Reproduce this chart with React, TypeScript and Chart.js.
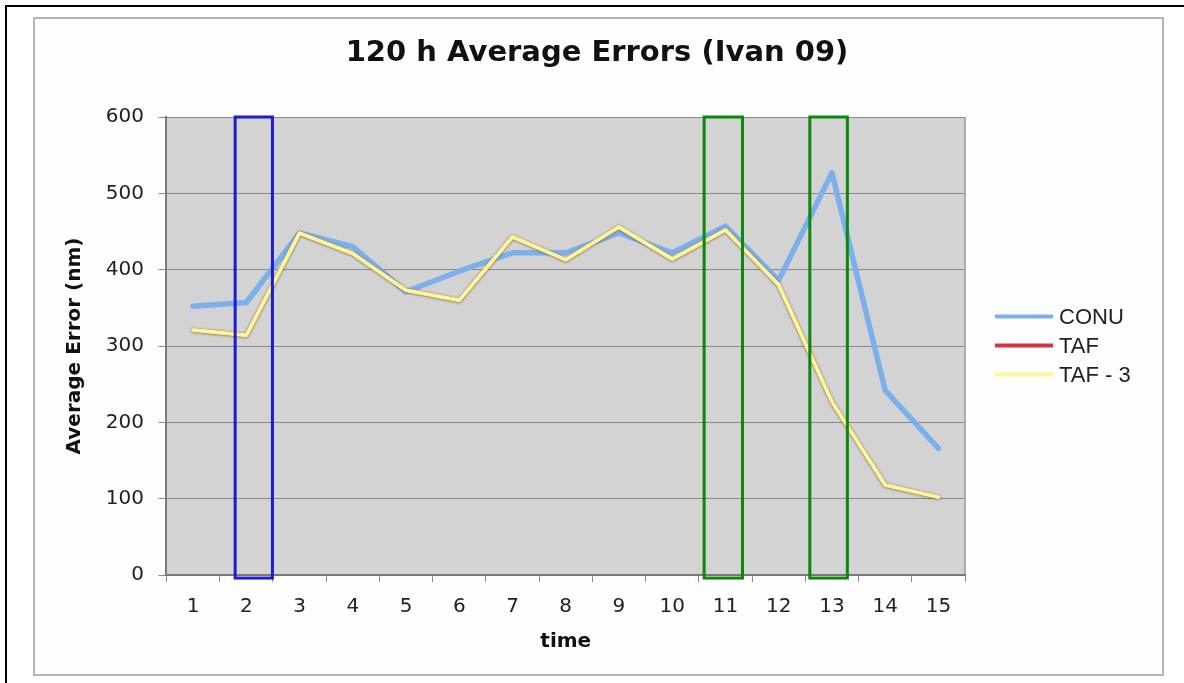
import React, { useEffect, useRef } from "react";
import { Chart, registerables } from "chart.js";

Chart.register(...registerables);

// ---- data ----
const TITLE = "120 h Average Errors (Ivan 09)";
const X_TITLE = "time";
const Y_TITLE = "Average Error (nm)";
const categories = ["1", "2", "3", "4", "5", "6", "7", "8", "9", "10", "11", "12", "13", "14", "15"];
const seriesNames = ["CONU", "TAF", "TAF - 3"];
const conu = [352, 357, 448, 430, 371, 398, 422, 422, 448, 422, 457, 386, 527, 242, 166];
const taf = [321, 314, 448, 421, 373, 360, 443, 413, 456, 414, 452, 380, 227, 118, 102];
const taf3 = [321, 314, 448, 421, 373, 360, 443, 413, 456, 414, 452, 380, 227, 118, 102];
const yMin = 0;
const yMax = 600;
const yStep = 100;
// highlight boxes, in category-index units (0 = "1")
const boxStarts = [0.79, 9.6, 11.585];
const boxEnds = [1.49, 10.32, 12.29];
const boxTops = [600, 600, 600];
const boxBottoms = [-4, -4, -4];

// ---- styles ----
const seriesColors = ["#7cb0ec", "#d6333f", "#fff59a"];
const seriesWidths = [5.5, 4, 4];
const boxColors = ["#1c1cd0", "#0b870b", "#0b870b"];
const PLOT_BG = "#d3d3d3";
const GRID = "#8a8a8a";

const decorPlugin = {
  id: "decor",
  beforeDraw(chart: any) {
    const { ctx, chartArea: a } = chart;
    ctx.save();
    ctx.fillStyle = PLOT_BG;
    ctx.fillRect(a.left, a.top, a.right - a.left, a.bottom - a.top);
    ctx.strokeStyle = "#9a9a9a";
    ctx.lineWidth = 1.5;
    ctx.beginPath();
    ctx.moveTo(a.right, a.top);
    ctx.lineTo(a.right, a.bottom);
    ctx.stroke();
    ctx.restore();
  },
  beforeDatasetDraw(chart: any, args: any) {
    const ctx = chart.ctx;
    ctx.save();
    if (args.index === 2) {
      ctx.shadowColor = "rgba(90,80,40,0.75)";
      ctx.shadowBlur = 2.5;
      ctx.shadowOffsetX = 0;
      ctx.shadowOffsetY = 0.5;
    }
  },
  afterDatasetDraw(chart: any) {
    chart.ctx.restore();
  },
  afterDatasetsDraw(chart: any) {
    const { ctx, scales } = chart;
    const xs = scales.x;
    const ys = scales.y;
    ctx.save();
    ctx.lineWidth = 3;
    boxStarts.forEach((s, i) => {
      const x1 = xs.getPixelForValue(s);
      const x2 = xs.getPixelForValue(boxEnds[i]);
      const y1 = ys.getPixelForValue(boxTops[i]);
      const y2 = ys.getPixelForValue(boxBottoms[i]);
      ctx.strokeStyle = boxColors[i];
      ctx.strokeRect(x1, y1, x2 - x1, y2 - y1);
    });
    ctx.restore();
  },
  afterDraw(chart: any) {
    const { ctx, chartArea: a } = chart;
    ctx.save();
    // title
    ctx.fillStyle = "#111";
    ctx.font = "bold 29px 'DejaVu Sans'";
    ctx.textAlign = "center";
    ctx.textBaseline = "middle";
    ctx.fillText(TITLE, 597, 53);
    // legend
    const x0 = a.right + 30;
    const cy = (a.top + a.bottom) / 2;
    ctx.font = "22px 'Liberation Sans'";
    ctx.textAlign = "left";
    chart.data.datasets.forEach((ds: any, i: number) => {
      const y = cy + (i - 1) * 29;
      ctx.fillStyle = ds.borderColor;
      ctx.fillRect(x0, y - 2.5, 58, 4);
      ctx.fillStyle = "#222";
      ctx.fillText(ds.label, x0 + 64, y + 1);
    });
    ctx.restore();
  },
};

export default function App() {
  const ref = useRef<HTMLCanvasElement | null>(null);

  useEffect(() => {
    if (!ref.current) return;
    const series = [conu, taf, taf3];
    const chart = new Chart(ref.current, {
      type: "line",
      data: {
        labels: categories,
        datasets: series.map((d, i) => ({
          label: seriesNames[i],
          data: d,
          borderColor: seriesColors[i],
          backgroundColor: seriesColors[i],
          borderWidth: seriesWidths[i],
          pointRadius: 0,
          pointHoverRadius: 0,
          tension: 0,
          fill: false,
          borderJoinStyle: "round" as const,
          borderCapStyle: "round" as const,
          order: 2 - i,
        })),
      },
      options: {
        responsive: false,
        animation: false,
        events: [],
        layout: { padding: { top: 117, right: 219, bottom: 20, left: 40 } },
        plugins: {
          legend: { display: false },
          title: { display: false },
          tooltip: { enabled: false },
        },
        scales: {
          x: {
            type: "category",
            offset: true,
            grid: {
              offset: true,
              drawOnChartArea: false,
              drawTicks: true,
              tickLength: 7,
              color: GRID,
              lineWidth: 1,
            },
            border: { display: true, color: "#7a7a7a", width: 2 },
            ticks: {
              color: "#222",
              font: { family: "'DejaVu Sans'", size: 20, lineHeight: 1 },
              padding: 15,
              maxRotation: 0,
              autoSkip: false,
            },
            title: {
              display: true,
              text: X_TITLE,
              color: "#111",
              font: { family: "'DejaVu Sans'", size: 20, weight: "bold", lineHeight: 1 },
              padding: { top: 0, bottom: 11 },
            },
          },
          y: {
            min: yMin,
            max: yMax,
            grid: {
              color: GRID,
              lineWidth: 1,
              tickLength: 8,
              drawTicks: true,
            },
            border: { display: true, color: "#7a7a7a", width: 2 },
            ticks: {
              stepSize: yStep,
              color: "#222",
              font: { family: "'DejaVu Sans'", size: 20 },
              padding: 14.5,
            },
            title: {
              display: true,
              text: Y_TITLE,
              color: "#111",
              font: { family: "'DejaVu Sans'", size: 20, weight: "bold" },
              padding: { top: 23, bottom: 4.3 },
            },
          },
        },
      },
      plugins: [decorPlugin],
    });
    return () => chart.destroy();
  }, []);

  return (
    <div style={{ position: "absolute", left: 0, top: 0, width: 1184, height: 683, background: "#fff", overflow: "hidden" }}>
      <div style={{ position: "absolute", left: 5, top: 5, width: 1200, height: 700, borderTop: "2px solid #000", borderLeft: "2px solid #000" }} />
      <div style={{ position: "absolute", left: 33, top: 17, width: 1127, height: 655, border: "2px solid #b4b4b4", background: "#fefefe" }} />
      <canvas ref={ref} width={1184} height={683} style={{ position: "absolute", left: 0, top: 0, width: 1184, height: 683 }} />
    </div>
  );
}
